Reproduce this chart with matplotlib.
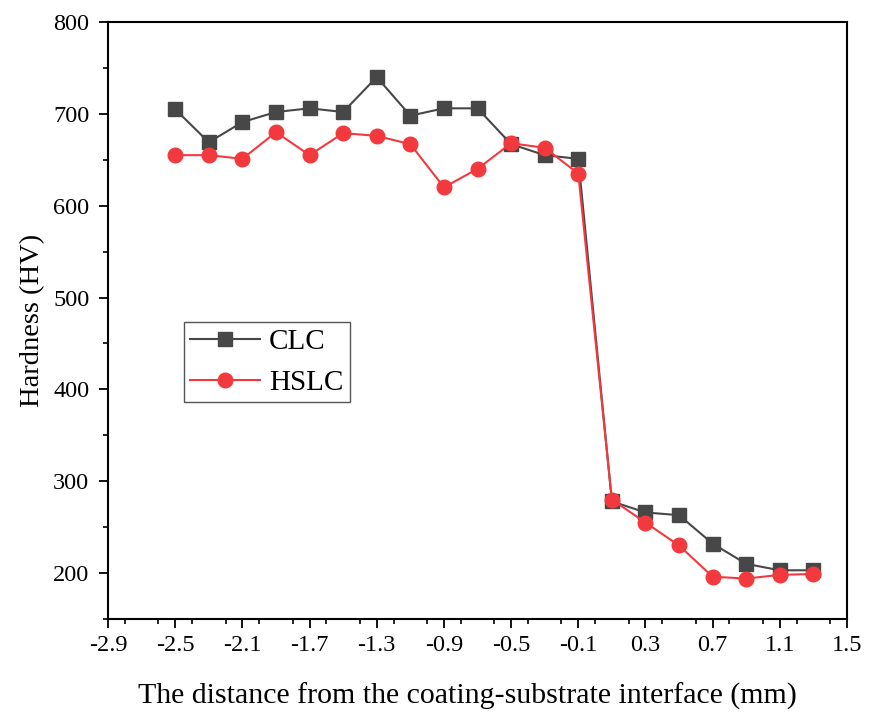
import matplotlib
matplotlib.use("Agg")
import matplotlib.pyplot as plt
from matplotlib.ticker import MultipleLocator, FixedLocator

x = [-2.5, -2.3, -2.1, -1.9, -1.7, -1.5, -1.3, -1.1, -0.9, -0.7,
     -0.5, -0.3, -0.1, 0.1, 0.3, 0.5, 0.7, 0.9, 1.1, 1.3]
clc = [705, 669, 691, 702, 706, 702, 740, 698, 706, 706,
       667, 655, 651, 278, 266, 263, 232, 210, 203, 203]
hslc = [655, 655, 651, 680, 655, 679, 676, 667, 620, 640,
        668, 663, 635, 280, 255, 230, 196, 194, 198, 199]
xticks = [-2.9, -2.5, -2.1, -1.7, -1.3, -0.9, -0.5, -0.1, 0.3, 0.7, 1.1, 1.5]
xticklabels = ["-2.9", "-2.5", "-2.1", "-1.7", "-1.3", "-0.9", "-0.5", "-0.1", "0.3", "0.7", "1.1", "1.5"]
yticks = [200, 300, 400, 500, 600, 700, 800]

plt.rcParams['font.family'] = ['Liberation Serif', 'DejaVu Serif']

fig = plt.figure(figsize=(8.74, 7.14), dpi=100)
ax = fig.add_axes([0.1236, 0.1331, 0.8455, 0.8361])

ax.plot(x, clc, color='#474747', marker='s', markersize=9.5, linewidth=1.5, label='CLC')
ax.plot(x, hslc, color='#f23a3e', marker='o', markersize=10.5, linewidth=1.5, label='HSLC')

ax.set_xlim(-2.9, 1.5)
ax.set_ylim(150, 800)
ax.xaxis.set_major_locator(FixedLocator(xticks))
ax.set_xticklabels(xticklabels)
ax.xaxis.set_minor_locator(MultipleLocator(0.2))
ax.yaxis.set_major_locator(FixedLocator(yticks))
ax.yaxis.set_minor_locator(MultipleLocator(50))

ax.tick_params(axis='both', which='major', direction='out', length=6.5, width=1.3, labelsize=17.5, colors='black')
ax.tick_params(axis='x', which='major', pad=5)
ax.tick_params(axis='y', which='major', pad=7)
ax.tick_params(axis='both', which='minor', direction='out', length=3.5, width=1.2)
ax.tick_params(top=False, right=False, which='both')
for s in ax.spines.values():
    s.set_linewidth(1.5)

ax.set_xlabel('The distance from the coating-substrate interface (mm)', fontsize=21.5, labelpad=19)
ax.xaxis.label.set_x(0.486)
ax.set_ylabel('Hardness (HV)', fontsize=20.5, labelpad=6)

leg = ax.legend(loc='upper left', bbox_to_anchor=(0.1028, 0.4975), fontsize=21,
                frameon=True, fancybox=False, edgecolor='#555555', framealpha=1,
                handlelength=2.4, borderpad=0.22, labelspacing=0.5, handletextpad=0.3,
                borderaxespad=0)
leg.get_frame().set_linewidth(1.0)

fig.savefig('out.png', dpi=100)
